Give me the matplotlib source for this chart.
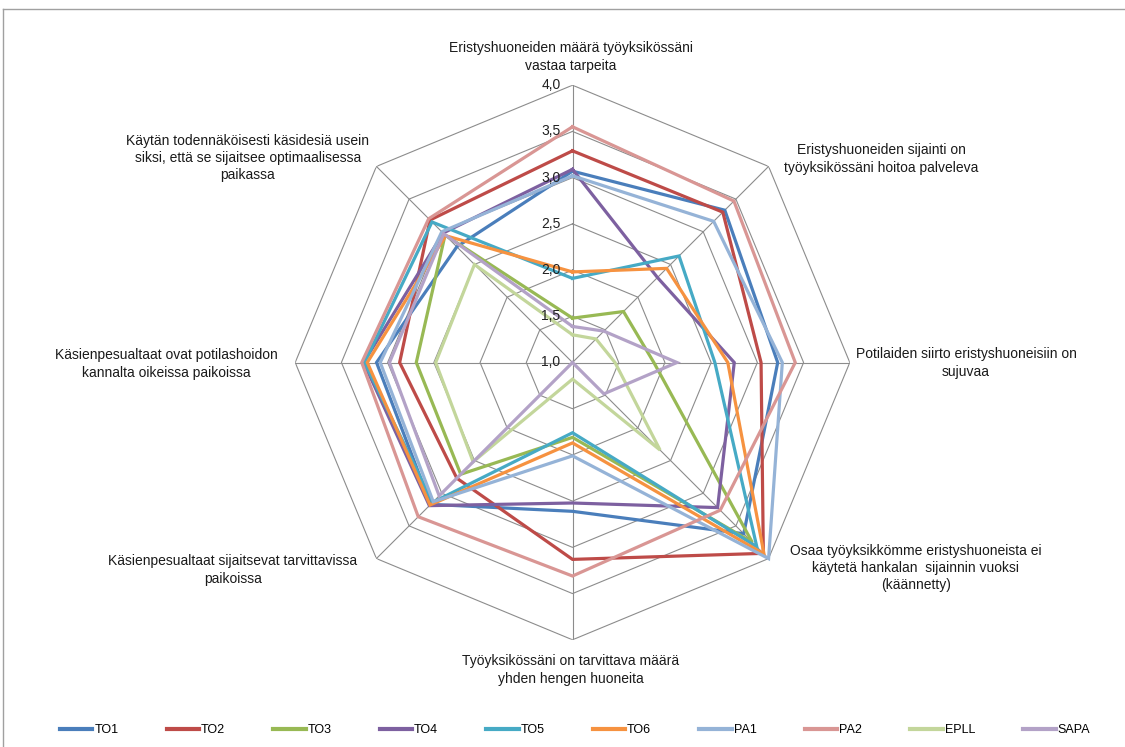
import numpy as np
import matplotlib
matplotlib.use('Agg')
import matplotlib.pyplot as plt
import matplotlib.transforms as mtrans
from matplotlib.lines import Line2D

plt.rcParams['font.family'] = ['Liberation Sans', 'DejaVu Sans']
plt.rcParams['font.size'] = 10

# Survey statements, clockwise from the top
questions = [
    'Eristyshuoneiden määrä työyksikössäni\nvastaa tarpeita',
    'Eristyshuoneiden sijainti on\ntyöyksikössäni hoitoa palveleva',
    'Potilaiden siirto eristyshuoneisiin on\nsujuvaa',
    'Osaa työyksikkömme eristyshuoneista ei\nkäytetä hankalan  sijainnin vuoksi\n(käännetty)',
    'Työyksikössäni on tarvittava määrä\nyhden hengen huoneita',
    'Käsienpesualtaat sijaitsevat tarvittavissa\npaikoissa',
    'Käsienpesualtaat ovat potilashoidon\nkannalta oikeissa paikoissa',
    'Käytän todennäköisesti käsidesiä usein\nsiksi, että se sijaitsee optimaalisessa\npaikassa',
]

units = ['TO1', 'TO2', 'TO3', 'TO4', 'TO5', 'TO6', 'PA1', 'PA2', 'EPLL', 'SAPA']

TO1 = [3.07, 3.33, 3.22, 3.62, 2.61, 3.17, 3.12, 2.77]
TO2 = [3.29, 3.30, 3.04, 3.92, 3.13, 2.77, 2.87, 3.18]
TO3 = [1.48, 1.78, 1.88, 3.75, 1.81, 2.71, 2.69, 2.95]
TO4 = [3.09, 2.30, 2.75, 3.22, 2.52, 3.19, 3.26, 2.98]
TO5 = [1.91, 2.63, 2.54, 3.82, 1.76, 3.14, 3.25, 3.15]
TO6 = [1.98, 2.44, 2.68, 3.93, 1.87, 3.18, 3.22, 2.94]
PA1 = [3.02, 3.16, 3.27, 4.00, 2.01, 3.13, 3.08, 3.00]
PA2 = [3.55, 3.47, 3.41, 3.26, 3.31, 3.36, 3.28, 3.20]
EPLL = [1.30, 1.36, 1.46, 2.34, 1.18, 2.52, 2.48, 2.50]
SAPA = [1.39, 1.48, 2.13, 1.48, 1.00, 3.04, 2.98, 2.97]

series = [TO1, TO2, TO3, TO4, TO5, TO6, PA1, PA2, EPLL, SAPA]
colors = ['#4A7EBB', '#BE4B48', '#98B954', '#7D60A0', '#46AAC5',
          '#F69240', '#95B3D7', '#D99694', '#C3D69B', '#B3A2C7']

rings = [1.0, 1.5, 2.0, 2.5, 3.0, 3.5, 4.0]
ring_labels = ['1,0', '1,5', '2,0', '2,5', '3,0', '3,5', '4,0']

W, H = 1125, 747
fig = plt.figure(figsize=(W / 100, H / 100), dpi=100)

# chart centre and outer radius in pixels
cx, cy, R = 572.5, 362.5, 277.3
ax = fig.add_axes([(cx - R) / W, (H - cy - R) / H, 2 * R / W, 2 * R / H],
                  projection='polar')
ax.set_theta_zero_location('N')
ax.set_theta_direction(-1)
ax.set_ylim(1, 4)
ax.grid(False)
ax.spines['polar'].set_visible(False)
ax.set_xticks([])
ax.set_yticks([])
ax.patch.set_alpha(0)

n = len(questions)
theta = np.arange(n) * 2 * np.pi / n
theta_c = np.append(theta, theta[0])

grid_col = '#8C8C8C'
for r in rings[1:]:
    ax.plot(theta_c, [r] * (n + 1), color=grid_col, lw=0.8, zorder=1)
for t in theta:
    ax.plot([t, t], [1, 4], color=grid_col, lw=0.8, zorder=1)

for vals, col, name in zip(series, colors, units):
    v = np.append(vals, vals[0])
    ax.plot(theta_c, v, color=col, lw=2.3, label=name, zorder=2,
            solid_joinstyle='miter', clip_on=False)

off = mtrans.offset_copy(ax.transData, fig=fig, x=-12, y=0, units='dots')
for r, lab in zip(rings, ring_labels):
    ax.text(0, r, lab, transform=off, ha='right', va='center',
            fontsize=10, color='#202020')

# statement labels around the chart (pixel centres)
label_pos = [(571, 57), (881, 159), (966, 363), (916, 568),
             (571, 670), (233, 570), (166, 364), (248, 158)]
for (x, y), q in zip(label_pos, questions):
    fig.text(x / W, 1 - y / H, q, ha='center', va='center',
             fontsize=10, linespacing=1.3, color='#1A1A1A')

leg = fig.legend(loc='center', bbox_to_anchor=(575 / W, 1 - 730 / H), ncol=10,
                 frameon=False, fontsize=9, handlelength=2.6,
                 handletextpad=0.15, columnspacing=3.85)
for h in leg.legend_handles:
    h.set_linewidth(3)

# chart area border
fig.add_artist(Line2D([3 / W, 3 / W], [0, 1 - 9 / H], color='#A0A0A0', lw=1))
fig.add_artist(Line2D([3 / W, 1], [1 - 9 / H, 1 - 9 / H], color='#A0A0A0', lw=1))

fig.savefig('out.png', dpi=100)
